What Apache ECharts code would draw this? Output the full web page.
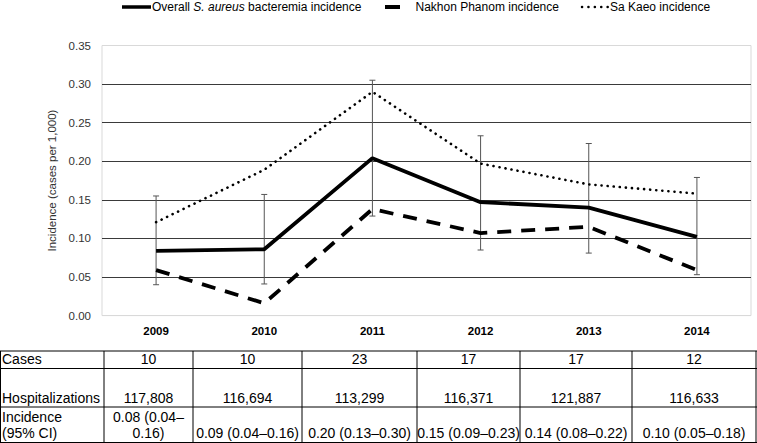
<!DOCTYPE html>
<html><head><meta charset="utf-8">
<script src="https://cdn.jsdelivr.net/npm/echarts@6/dist/echarts.min.js"></script>
<style>html,body{margin:0;padding:0;background:#fff}#c{width:757px;height:443px}</style>
</head><body><div id="c"></div>
<script>
// ---- data ----
const years = ['2009', '2010', '2011', '2012', '2013', '2014'];
const overall = [0.084, 0.086, 0.204, 0.147, 0.140, 0.102];
const overallLow = [0.040, 0.041, 0.129, 0.085, 0.081, 0.053];
const overallHigh = [0.155, 0.157, 0.305, 0.233, 0.223, 0.179];
const nakhonPhanom = [0.059, 0.016, 0.138, 0.107, 0.115, 0.059];
const saKaeo = [0.121, 0.189, 0.290, 0.197, 0.170, 0.158];
const legendNames = ['Overall S. aureus bacteremia incidence', 'Nakhon Phanom incidence', 'Sa Kaeo incidence'];
const rowLabels = ['Cases', 'Hospitalizations', 'Incidence\n(95% CI)'];
const cases = ['10', '10', '23', '17', '17', '12'];
const hospitalizations = ['117,808', '116,694', '113,299', '116,371', '121,887', '116,633'];
const incidenceCI = ['0.08 (0.04–\n0.16)', '0.09 (0.04–0.16)', '0.20 (0.13–0.30)', '0.15 (0.09–0.23)', '0.14 (0.08–0.22)', '0.10 (0.05–0.18)'];

// ---- layout ----
const FONT = '"Liberation Sans", Arial, sans-serif';
const colEdges = [0.5, 104, 193, 302, 417, 520, 632, 756];
const rowEdges = [351, 368.5, 407, 442.5];
const LEG_Y = 7;

const chart = echarts.init(document.getElementById('c'), null, {renderer: 'svg'});

const graphics = [];
// legend
function legendItem(x1, x2, lineStyle, textX, text, rich) {
  graphics.push({type: 'line', shape: {x1: x1, y1: LEG_Y, x2: x2, y2: LEG_Y}, style: Object.assign({stroke: '#000'}, lineStyle), silent: true});
  graphics.push({type: 'text', x: textX, y: LEG_Y, style: {text: text, rich: rich, fill: '#000', font: '12px ' + FONT, verticalAlign: 'middle', align: 'left'}, silent: true});
}
legendItem(122, 151, {lineWidth: 3.5}, 152, 'Overall {i|S. aureus} bacteremia incidence', {i: {fontStyle: 'italic', fontSize: 12, fontFamily: FONT}});
legendItem(385, 400, {lineWidth: 4}, 415.5, legendNames[1]);
legendItem(582, 608, {lineWidth: 2.5, lineDash: [0.1, 6.3], lineCap: 'round'}, 610, legendNames[2]);

// table lines
rowEdges.forEach(y => graphics.push({type: 'line', shape: {x1: 0, y1: y, x2: 757, y2: y}, style: {stroke: '#000', lineWidth: 1}, silent: true}));
colEdges.forEach(x => graphics.push({type: 'line', shape: {x1: x, y1: rowEdges[0], x2: x, y2: rowEdges[3]}, style: {stroke: '#000', lineWidth: 1}, silent: true}));
// table texts
const rows = [cases, hospitalizations, incidenceCI];
rows.forEach((arr, r) => {
  const yb = rowEdges[r + 1] - 1;
  graphics.push({type: 'text', x: 2, y: yb, style: {text: rowLabels[r], fill: '#000', font: '14px ' + FONT, align: 'left', verticalAlign: 'bottom', lineHeight: 16.5}, silent: true});
  arr.forEach((t, i) => {
    const cx = (colEdges[i + 1] + colEdges[i + 2]) / 2;
    graphics.push({type: 'text', x: cx, y: yb, style: {text: t, fill: '#000', font: '14px ' + FONT, align: 'center', verticalAlign: 'bottom', lineHeight: 16.5}, silent: true});
  });
});

const option = {
  animation: false,
  backgroundColor: '#fff',
  grid: {left: 102, right: 6, top: 45.5, bottom: 127.4, show: true, borderColor: '#d9d9d9', borderWidth: 1},
  xAxis: {
    type: 'category', data: years, boundaryGap: true,
    axisLine: {show: false}, axisTick: {show: false},
    axisLabel: {fontFamily: FONT, fontSize: 11.5, fontWeight: 'bold', color: '#000', margin: 9}
  },
  yAxis: {
    type: 'value', min: 0, max: 0.35, interval: 0.05,
    name: 'Incidence (cases per 1,000)', nameLocation: 'middle', nameRotate: 90, nameGap: 42,
    nameTextStyle: {fontFamily: FONT, fontSize: 11.5, color: '#333'},
    axisLine: {show: false}, axisTick: {show: false},
    axisLabel: {fontFamily: FONT, fontSize: 11.5, color: '#333', margin: 11, formatter: v => v.toFixed(2)},
    splitLine: {show: true, lineStyle: {color: ['#d9d9d9', '#3a3a3a', '#3a3a3a', '#3a3a3a', '#3a3a3a', '#3a3a3a', '#3a3a3a', '#d9d9d9'], width: 1}}
  },
  series: [
    {
      type: 'custom', name: 'CI', z: 1,
      data: years.map((y, i) => [i, overallLow[i], overallHigh[i]]),
      encode: {x: 0, y: [1, 2]},
      renderItem: function (params, api) {
        const x = api.value(0);
        const lo = api.coord([x, api.value(1)]);
        const hi = api.coord([x, api.value(2)]);
        const w = 3;
        const st = {stroke: '#555', lineWidth: 1};
        return {type: 'group', children: [
          {type: 'line', shape: {x1: lo[0], y1: lo[1], x2: hi[0], y2: hi[1]}, style: st},
          {type: 'line', shape: {x1: lo[0] - w, y1: lo[1], x2: lo[0] + w, y2: lo[1]}, style: st},
          {type: 'line', shape: {x1: hi[0] - w, y1: hi[1], x2: hi[0] + w, y2: hi[1]}, style: st}
        ]};
      }
    },
    {type: 'line', name: legendNames[0], data: overall, symbol: 'none', z: 3,
      lineStyle: {color: '#000', width: 3.8}},
    {type: 'line', name: legendNames[1], data: nakhonPhanom, symbol: 'none', z: 3,
      lineStyle: {color: '#000', width: 3.8, type: [14, 10]}},
    {type: 'line', name: legendNames[2], data: saKaeo, symbol: 'none', z: 3,
      lineStyle: {color: '#000', width: 2.6, type: [0.1, 6], cap: 'round'}}
  ],
  graphic: graphics
};
chart.setOption(option);
</script></body></html>
